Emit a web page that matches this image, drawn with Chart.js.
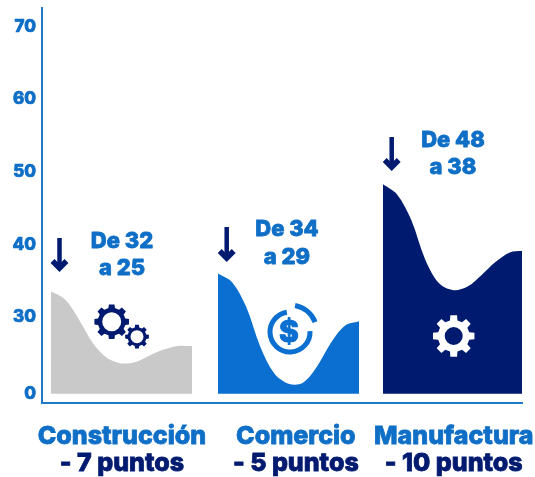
<!DOCTYPE html>
<html lang="es">
<head>
<meta charset="utf-8">
<title>Caída por sector</title>
<script src="https://cdn.jsdelivr.net/npm/chart.js@4"></script>
<style>
    html, body { margin: 0; padding: 0; background: #fff; }
    canvas { display: block; }
</style>
</head>
<body>
<canvas id="grafico" width="535" height="477"></canvas>
<script>
// Datos
const pasos = [0, 1, 2, 3, 4, 5, 6, 7, 8, 9, 10];
const construccion = [33.5, 32.4, 29.6, 26.3, 24.3, 23.6, 23.8, 24.7, 25.5, 26.0, 26.0];
const comercio = [36.0, 34.8, 31.4, 25.9, 22.2, 20.8, 20.9, 23.1, 26.4, 28.8, 29.4];
const manufactura = [48.3, 46.9, 43.4, 37.9, 34.6, 33.7, 34.2, 35.8, 37.6, 38.9, 39.1];

const sectores = ['Construcción', 'Comercio', 'Manufactura'];
const puntos = ['- 7 puntos', '- 5 puntos', '- 10 puntos'];
const notasDe = ['De 32', 'De 34', 'De 48'];
const notasA = ['a 25', 'a 29', 'a 38'];

// El eje está cortado: el "0" se dibuja justo debajo del 30
const corteEje = 19.4;
const ticksY = [corteEje, 30, 40, 50, 60, 70];
const etiquetasY = ['0', '30', '40', '50', '60', '70'];

const inicioBanda = [0.64, 12.48, 24.18];
const centroEtiqueta = [5.67, 18.0, 29.2];

const AZUL = '#0f6fc6';
const MARINO = '#001a70';
const GRIS = '#c9c9c9';
const AZUL_AREA = '#0a6fd0';
const FUENTE = 'Inter';

function serie(valores, banda, color) {
    return {
        data: pasos.map((p, i) => ({ x: inicioBanda[banda] + p, y: valores[i] })),
        backgroundColor: color,
        borderWidth: 0,
        pointRadius: 0,
        tension: 0.33,
        fill: { value: corteEje },
        clip: false
    };
}

function engrane(ctx, cx, cy, rExt, rInt, hueco, dientes, color) {
    ctx.save();
    ctx.fillStyle = color;
    ctx.beginPath();
    const paso = Math.PI * 2 / dientes;
    for (let i = 0; i < dientes; i++) {
        const a = i * paso - Math.PI / 2;
        const w = paso * 0.24;
        ctx.lineTo(cx + rInt * Math.cos(a - w * 1.25), cy + rInt * Math.sin(a - w * 1.25));
        ctx.lineTo(cx + rExt * Math.cos(a - w * 0.85), cy + rExt * Math.sin(a - w * 0.85));
        ctx.lineTo(cx + rExt * Math.cos(a + w * 0.85), cy + rExt * Math.sin(a + w * 0.85));
        ctx.lineTo(cx + rInt * Math.cos(a + w * 1.25), cy + rInt * Math.sin(a + w * 1.25));
    }
    ctx.closePath();
    ctx.moveTo(cx + hueco, cy);
    ctx.arc(cx, cy, hueco, 0, Math.PI * 2, true);
    ctx.fill('evenodd');
    ctx.restore();
}

function flecha(ctx, x, y1, y2) {
    ctx.save();
    ctx.strokeStyle = MARINO;
    ctx.lineWidth = 4.5;
    ctx.beginPath();
    ctx.moveTo(x, y1);
    ctx.lineTo(x, y2 - 4);
    ctx.stroke();
    ctx.lineWidth = 5.5;
    ctx.beginPath();
    ctx.moveTo(x - 7, y2 - 11);
    ctx.lineTo(x, y2 - 4);
    ctx.lineTo(x + 7, y2 - 11);
    ctx.stroke();
    ctx.restore();
}

// Quita el margen que Chart.js reserva para las etiquetas de los extremos
function sinMargen(axis) {
    axis.paddingLeft = 0;
    axis.paddingRight = 0;
    axis.paddingTop = 0;
    axis.paddingBottom = 0;
}

function textoGrueso(ctx, texto, x, y) {
    ctx.strokeText(texto, x, y);
    ctx.fillText(texto, x, y);
}

// Notas, flechas e iconos encima de las áreas
const adornos = {
    id: 'adornos',
    afterDatasetsDraw(chart) {
        const ctx = chart.ctx;

        flecha(ctx, 59.5, 238, 272);
        flecha(ctx, 226.7, 227, 262);
        flecha(ctx, 391.7, 137, 171);

        ctx.save();
        ctx.fillStyle = AZUL;
        ctx.strokeStyle = AZUL;
        ctx.lineWidth = 0.8;
        ctx.lineJoin = 'round';
        ctx.textAlign = 'center';
        ctx.textBaseline = 'middle';
        ctx.font = '800 22px ' + FUENTE;
        textoGrueso(ctx, notasDe[0], 122, 241);
        textoGrueso(ctx, notasA[0], 122, 268);
        textoGrueso(ctx, notasDe[1], 287, 229);
        textoGrueso(ctx, notasA[1], 287, 257);
        textoGrueso(ctx, notasDe[2], 453, 140);
        textoGrueso(ctx, notasA[2], 453, 167);

        // Icono del dólar
        ctx.strokeStyle = AZUL_AREA;
        ctx.lineWidth = 5;
        ctx.beginPath();
        ctx.arc(290, 332, 20, -0.05, Math.PI * 1.45);
        ctx.stroke();
        ctx.lineWidth = 5;
        ctx.beginPath();
        ctx.arc(290, 332, 27, -Math.PI * 0.44, -Math.PI * 0.12);
        ctx.stroke();
        ctx.fillStyle = AZUL_AREA;
        ctx.lineWidth = 1;
        ctx.font = '800 30px ' + FUENTE;
        textoGrueso(ctx, '$', 289, 333);
        ctx.restore();

        engrane(ctx, 111.7, 321.7, 17.5, 14, 9.5, 8, MARINO);
        engrane(ctx, 137, 336.7, 12, 9.5, 6.5, 8, MARINO);
        engrane(ctx, 453.7, 336, 21, 16, 9, 8, '#ffffff');
    }
};

new Chart(document.getElementById('grafico'), {
    type: 'line',
    data: {
        datasets: [
            serie(construccion, 0, GRIS),
            serie(comercio, 1, AZUL_AREA),
            serie(manufactura, 2, MARINO)
        ]
    },
    options: {
        responsive: false,
        animation: false,
        layout: { padding: { top: 8, right: 13, left: 0, bottom: 0 } },
        plugins: { legend: { display: false }, tooltip: { enabled: false } },
        scales: {
            x: {
                type: 'linear',
                position: 'bottom',
                weight: 2,
                min: 0,
                max: 34.04,
                grid: { display: false, drawTicks: false },
                border: { color: '#1f78c8', width: 2 },
                afterBuildTicks: axis => { axis.ticks = centroEtiqueta.map(v => ({ value: v })); },
                afterFit: axis => { axis.height = 42; sinMargen(axis); },
                ticks: {
                    autoSkip: false,
                    maxRotation: 0,
                    padding: 18,
                    color: AZUL,
                    textStrokeColor: AZUL,
                    textStrokeWidth: 0.8,
                    font: { family: FUENTE, size: 25, weight: 800 },
                    callback: (v, i) => sectores[i]
                }
            },
            x2: {
                type: 'linear',
                position: 'bottom',
                weight: 3,
                min: 0,
                max: 34.04,
                grid: { display: false, drawTicks: false },
                border: { display: false },
                afterBuildTicks: axis => { axis.ticks = centroEtiqueta.map(v => ({ value: v })); },
                afterFit: axis => { axis.height = 32; sinMargen(axis); },
                ticks: {
                    autoSkip: false,
                    maxRotation: 0,
                    padding: 3,
                    color: MARINO,
                    textStrokeColor: MARINO,
                    textStrokeWidth: 0.8,
                    font: { family: FUENTE, size: 25, weight: 800 },
                    callback: (v, i) => puntos[i]
                }
            },
            y: {
                type: 'linear',
                min: 18.14,
                max: 72.6,
                grid: { display: false, drawTicks: false },
                border: { color: '#1f78c8', width: 2 },
                afterBuildTicks: axis => { axis.ticks = ticksY.map(v => ({ value: v })); },
                afterFit: axis => { axis.width = 42; sinMargen(axis); },
                ticks: {
                    autoSkip: false,
                    padding: 6,
                    color: AZUL,
                    textStrokeColor: AZUL,
                    textStrokeWidth: 0.7,
                    font: { family: FUENTE, size: 17, weight: 800 },
                    callback: (v, i) => etiquetasY[i]
                }
            }
        }
    },
    plugins: [adornos]
});
</script>
</body>
</html>
